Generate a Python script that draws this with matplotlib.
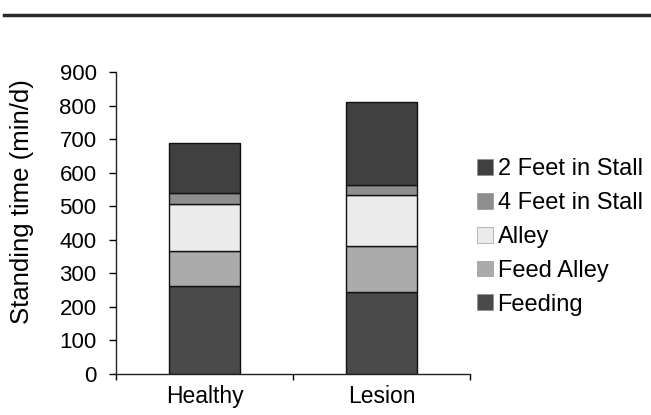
import matplotlib.pyplot as plt
from matplotlib.lines import Line2D
import numpy as np

plt.rcParams['font.family'] = ['Liberation Sans', 'DejaVu Sans']

groups = ['Healthy', 'Lesion']
segments = ['Feeding', 'Feed Alley', 'Alley', '4 Feet in Stall', '2 Feet in Stall']
feeding = [261, 243]
feed_alley = [106, 137]
alley = [140, 154]
four_feet = [32, 28]
two_feet = [149, 249]
colors = ['#4a4a4a', '#ababab', '#ebebeb', '#8e8e8e', '#404040']

fig = plt.figure(figsize=(6.51, 4.15), dpi=100)
ax = fig.add_axes([116 / 651, 1 - 374 / 415, (470 - 116) / 651, (374 - 72) / 415])

x = np.arange(len(groups))
bottom = np.zeros(len(groups))
handles = []
for name, vals, col in zip(segments, [feeding, feed_alley, alley, four_feet, two_feet], colors):
    b = ax.bar(x, vals, bottom=bottom, width=0.405, color=col, edgecolor='#111111',
               linewidth=1.0, label=name)
    bottom += np.array(vals)
    handles.append(b)

ax.set_xlim(-0.5, 1.5)
ax.set_ylim(0, 900)
ax.set_yticks(range(0, 901, 100))
ax.set_xticks([-0.5, 0.5, 1.5])
ax.set_xticklabels([])
ax.set_xticks(x, minor=True)
ax.set_xticklabels(groups, minor=True, fontsize=16.5)
ax.tick_params(axis='x', which='minor', length=0, pad=8)
ax.tick_params(axis='x', which='major', length=4, direction='out', width=1)
ax.tick_params(axis='y', length=5, direction='out', labelsize=16, width=1, pad=9)
for s in ['top', 'right']:
    ax.spines[s].set_visible(False)
for s in ['left', 'bottom']:
    ax.spines[s].set_linewidth(1.0)
    ax.spines[s].set_color('#222222')
ax.set_ylabel('Standing time (min/d)', fontsize=18.5)
ax.yaxis.set_label_coords(-0.233, 0.57)

leg = ax.legend(handles[::-1], segments[::-1], loc='center left',
                bbox_to_anchor=(468 / 651, 1 - 237 / 415), bbox_transform=fig.transFigure,
                frameon=False, fontsize=17, handlelength=0.65, handleheight=0.65,
                handletextpad=0.2, labelspacing=0.5, borderaxespad=0)
for h in leg.legend_handles:
    h.set_linewidth(0.4)
    h.set_edgecolor('#888888')

fig.add_artist(Line2D([4 / 651, 1.0], [1 - 15 / 415, 1 - 15 / 415],
                      transform=fig.transFigure, color='#2a2a2a', linewidth=2.5))

fig.savefig('out.png', dpi=100)
